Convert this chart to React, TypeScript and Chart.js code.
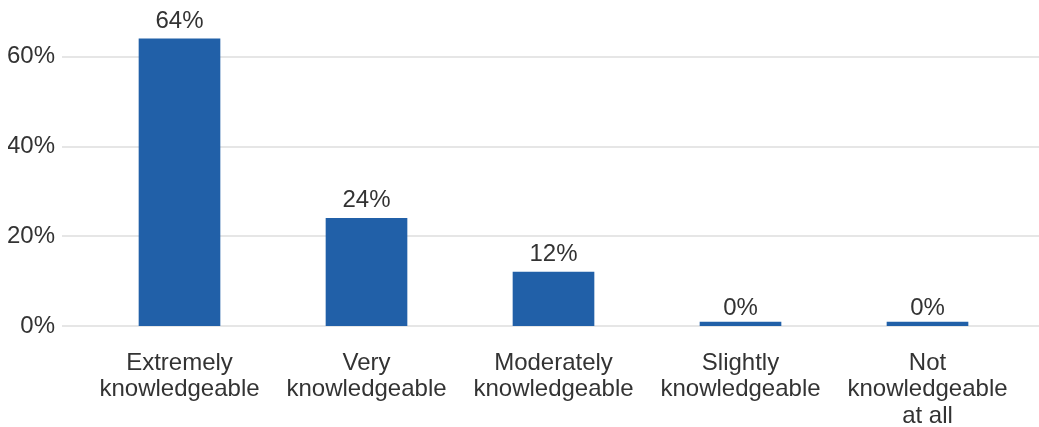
import React, { useEffect, useRef } from "react";
import { Chart, registerables } from "chart.js";

Chart.register(...registerables);

const categories: string[][] = [
  ["Extremely", "knowledgeable"],
  ["Very", "knowledgeable"],
  ["Moderately", "knowledgeable"],
  ["Slightly", "knowledgeable"],
  ["Not", "knowledgeable", "at all"],
];
const values: number[] = [64, 24, 12, 0, 0];
const yTicks: number[] = [0, 20, 40, 60];

const FONT = "'Liberation Sans', Arial, sans-serif";
const TEXT = "#333333";
const BAR = "#2160a8";
const GRID = "#e6e6e6";

const gridPlugin = {
  id: "customGrid",
  beforeDatasetsDraw(chart: any) {
    const { ctx, chartArea, scales } = chart;
    const y = scales.y;
    ctx.save();
    ctx.strokeStyle = GRID;
    ctx.lineWidth = 2;
    yTicks.forEach((t) => {
      const py = Math.round(y.getPixelForValue(t));
      ctx.beginPath();
      ctx.moveTo(chartArea.left - 24, py);
      ctx.lineTo(chart.width, py);
      ctx.stroke();
    });
    ctx.restore();
  },
};

const labelPlugin = {
  id: "valueLabels",
  afterDatasetsDraw(chart: any) {
    const { ctx, scales } = chart;
    const meta = chart.getDatasetMeta(0);
    ctx.save();
    ctx.fillStyle = TEXT;
    ctx.font = `24px ${FONT}`;
    ctx.textAlign = "center";
    ctx.textBaseline = "alphabetic";
    meta.data.forEach((bar: any, i: number) => {
      const v = values[i];
      const py = scales.y.getPixelForValue(v) - 11;
      ctx.fillText(`${v}%`, bar.x, py);
    });
    ctx.restore();
  },
};

export default function App() {
  const ref = useRef<HTMLCanvasElement | null>(null);
  useEffect(() => {
    document.body.style.margin = "0";
    const canvas = ref.current!;
    const chart = new Chart(canvas, {
      type: "bar",
      data: {
        labels: categories,
        datasets: [
          {
            data: values,
            backgroundColor: BAR,
            barThickness: 81,
            minBarLength: 4,
          },
        ],
      },
      options: {
        animation: false,
        responsive: false,
        maintainAspectRatio: false,
        layout: { padding: { left: 8, right: 18, top: 12, bottom: 0 } },
        plugins: {
          legend: { display: false },
          tooltip: { enabled: false },
        },
        scales: {
          x: {
            grid: { display: false },
            border: { display: false },
            ticks: {
              color: TEXT,
              font: { family: FONT, size: 24, lineHeight: 1.1 },
              padding: 16,
              maxRotation: 0,
              autoSkip: false,
            },
            afterFit(scale: any) {
              scale.height = 101;
            },
          },
          y: {
            min: 0,
            max: 70,
            bounds: "data",
            grid: { display: false, drawTicks: false },
            border: { display: false },
            ticks: {
              color: TEXT,
              font: { family: FONT, size: 24 },
              padding: 31,
              callback: (v: any) => `${v}%`,
            },
            afterBuildTicks(scale: any) {
              scale.ticks = yTicks.map((v) => ({ value: v }));
            },
            afterFit(scale: any) {
              scale.width = 78;
              scale.paddingTop = 0;
              scale.paddingBottom = 0;
            },
          },
        },
      },
      plugins: [gridPlugin, labelPlugin],
    });
    return () => chart.destroy();
  }, []);
  return (
    <div style={{ width: 1039, height: 427 }}>
      <canvas ref={ref} width={1039} height={427} style={{ display: "block" }} />
    </div>
  );
}
